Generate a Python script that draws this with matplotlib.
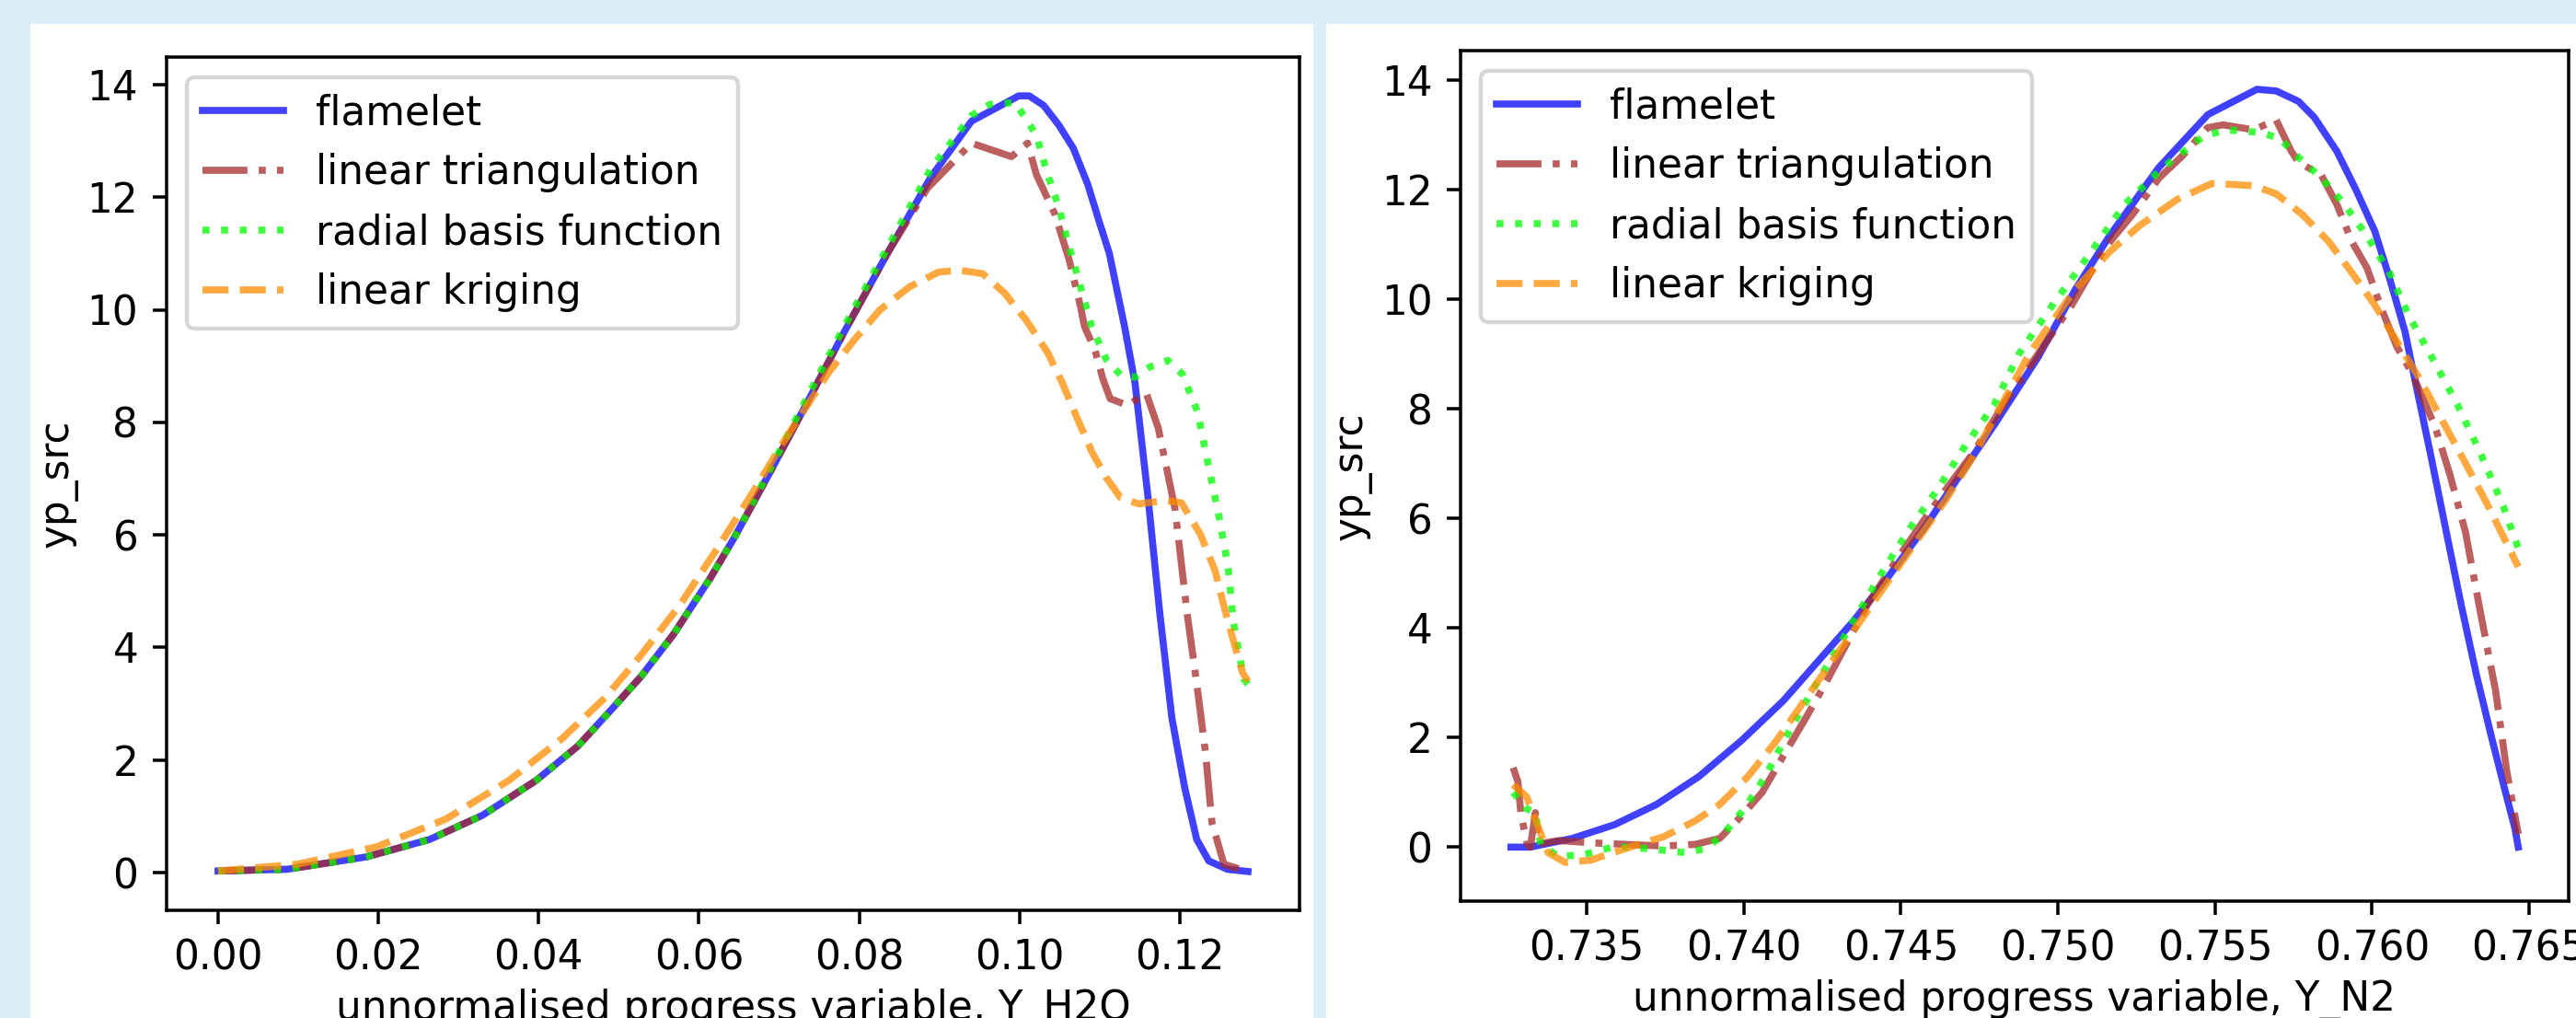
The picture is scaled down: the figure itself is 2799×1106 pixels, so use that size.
import matplotlib
matplotlib.use('Agg')
import matplotlib.pyplot as plt
from matplotlib.patches import Rectangle

# scale factor for the enlarged slide
S = 3.15
plt.rcParams.update({
    'font.size': 10*S,
    'axes.linewidth': 0.8*S,
    'xtick.major.size': 3.5*S, 'ytick.major.size': 3.5*S,
    'xtick.major.width': 0.8*S, 'ytick.major.width': 0.8*S,
    'xtick.major.pad': 3.5*S, 'ytick.major.pad': 3.5*S,
    'axes.labelpad': 4.0*S,
    'patch.linewidth': 1.0*S,
})

labels = ['flamelet', 'linear triangulation', 'radial basis function', 'linear kriging']
colors = ['b', 'brown', 'lime', 'darkorange']
styles = ['-', '-.', ':', '--']

# ---- Y_H2O panel ----
h2o_flamelet_x = [0.0, 0.0086, 0.0185, 0.0264, 0.0330, 0.0397, 0.0449, 0.0489, 0.0528, 0.0568,
                  0.0614, 0.0644, 0.0690, 0.0735, 0.0781, 0.0835, 0.0889, 0.0940, 0.0999, 0.1012,
                  0.1030, 0.1049, 0.1067, 0.1085, 0.1099, 0.1112, 0.1131, 0.1144, 0.1160, 0.1175,
                  0.1190, 0.1206, 0.1221, 0.1236, 0.1259, 0.1285]
h2o_flamelet_y = [0.03, 0.06, 0.28, 0.59, 1.02, 1.64, 2.25, 2.87, 3.49, 4.23,
                  5.23, 5.95, 7.15, 8.35, 9.6, 11.0, 12.35, 13.35, 13.8, 13.8,
                  13.63, 13.28, 12.87, 12.23, 11.58, 11.0, 9.70, 8.7, 6.7, 4.6,
                  2.75, 1.51, 0.59, 0.21, 0.06, 0.02]

h2o_lintri_x = [0.0, 0.0086, 0.0185, 0.0264, 0.0330, 0.0397, 0.0449, 0.0489, 0.0528, 0.0568,
                0.0614, 0.0644, 0.0690, 0.0735, 0.0781, 0.0835, 0.0885, 0.0940, 0.0990, 0.1010,
                0.1021, 0.1044, 0.1062, 0.1076, 0.1081, 0.1094, 0.1104, 0.1113, 0.1135, 0.1158,
                0.1173, 0.1194, 0.1209, 0.1221, 0.1232, 0.1240, 0.1255, 0.1285]
h2o_lintri_y = [0.03, 0.06, 0.28, 0.59, 1.02, 1.64, 2.25, 2.87, 3.49, 4.23,
                5.23, 5.95, 7.15, 8.35, 9.6, 11.0, 12.16, 12.96, 12.72, 12.96,
                12.40, 11.7, 10.88, 10.06, 9.70, 9.29, 8.77, 8.42, 8.30, 8.52,
                7.9, 6.46, 4.61, 3.36, 2.13, 0.89, 0.15, 0.02]

h2o_rbf_x = [0.0, 0.0086, 0.0185, 0.0264, 0.0330, 0.0397, 0.0449, 0.0489, 0.0528, 0.0568,
             0.0614, 0.0644, 0.0690, 0.0735, 0.0781, 0.0835, 0.0889, 0.0940, 0.0963, 0.0994,
             0.1008, 0.1021, 0.1035, 0.1049, 0.1062, 0.1076, 0.1090, 0.1108, 0.1126, 0.1144,
             0.1162, 0.1185, 0.1203, 0.1222, 0.1236, 0.1249, 0.1260, 0.1267, 0.1280, 0.1285]
h2o_rbf_y = [0.03, 0.06, 0.28, 0.59, 1.02, 1.64, 2.25, 2.87, 3.49, 4.23,
             5.23, 5.95, 7.2, 8.45, 9.7, 11.1, 12.5, 13.45, 13.65, 13.68,
             13.39, 13.10, 12.40, 11.82, 11.11, 10.41, 9.70, 9.12, 8.84, 8.80,
             8.98, 9.10, 8.86, 8.19, 7.2, 6.31, 5.45, 4.43, 3.43, 3.35]

h2o_krig_x = [0.0, 0.0099, 0.0198, 0.0284, 0.0363, 0.0429, 0.0483, 0.0528, 0.0575, 0.0621,
              0.0667, 0.0703, 0.0735, 0.0762, 0.0794, 0.0826, 0.0863, 0.0899, 0.0926, 0.0954,
              0.0981, 0.1008, 0.1035, 0.1053, 0.1072, 0.1090, 0.1108, 0.1126, 0.1149, 0.1181,
              0.1202, 0.1226, 0.1244, 0.1255, 0.1267, 0.1278, 0.1285]
h2o_krig_y = [0.03, 0.15, 0.46, 0.95, 1.64, 2.38, 3.11, 3.87, 4.73, 5.72,
              6.75, 7.6, 8.30, 8.89, 9.47, 10.0, 10.41, 10.67, 10.7, 10.64,
              10.30, 9.82, 9.24, 8.71, 8.07, 7.48, 7.02, 6.66, 6.55, 6.61,
              6.57, 6.0, 5.36, 4.73, 4.11, 3.56, 3.4]

# ---- Y_N2 panel ----
n2_flamelet_x = [0.73258, 0.7332, 0.73454, 0.73588, 0.73722, 0.73857, 0.73991, 0.74125, 0.74237,
                 0.74349, 0.74460, 0.74572, 0.74684, 0.74796, 0.74936, 0.75056, 0.75164, 0.75321,
                 0.75478, 0.75634, 0.75695, 0.75766, 0.75816, 0.75888, 0.75947, 0.76009, 0.76056,
                 0.76105, 0.76140, 0.76189, 0.76237, 0.76285, 0.76333, 0.76382, 0.76429, 0.76455,
                 0.76466]
n2_flamelet_y = [0.0, 0.0, 0.16, 0.41, 0.78, 1.29, 1.94, 2.67, 3.40,
                 4.13, 4.94, 5.81, 6.76, 7.7, 8.94, 10.19, 11.16, 12.41,
                 13.38, 13.84, 13.81, 13.62, 13.33, 12.71, 12.03, 11.25, 10.39,
                 9.42, 8.45, 7.11, 5.75, 4.40, 3.14, 1.98, 0.92, 0.35,
                 0.0]

n2_lintri_x = [0.73265, 0.73280, 0.73290, 0.73310, 0.7332, 0.73336, 0.73348, 0.73409, 0.73510,
               0.73621, 0.73744, 0.73845, 0.73923, 0.73991, 0.74058, 0.74125, 0.74192, 0.74258,
               0.74325, 0.74393, 0.74483, 0.74572, 0.74639, 0.74729, 0.74840, 0.74900, 0.75044,
               0.75152, 0.75237, 0.75322, 0.75394, 0.75477, 0.75526, 0.75623, 0.75695, 0.75743,
               0.75766, 0.75839, 0.75888, 0.75936, 0.75984, 0.76032, 0.76080, 0.76128, 0.76201,
               0.76248, 0.76298, 0.76345, 0.76394, 0.76429, 0.76466]
n2_lintri_y = [1.45, 1.2, 0.6, 0.05, 0.0, 0.63, 0.06, 0.12, 0.08,
               0.05, 0.02, 0.05, 0.16, 0.56, 1.0, 1.66, 2.31, 2.97,
               3.69, 4.42, 5.22, 5.96, 6.5, 7.19, 8.2, 8.7, 9.90,
               10.96, 11.55, 12.22, 12.61, 13.14, 13.19, 13.10, 13.28, 12.71,
               12.51, 12.27, 11.74, 11.06, 10.58, 9.81, 9.13, 8.65, 7.68,
               6.81, 5.75, 4.30, 2.85, 1.40, 0.24]

n2_rbf_x = [0.73265, 0.73308, 0.73336, 0.73352, 0.73409, 0.73487, 0.73588, 0.73700, 0.73811,
            0.73878, 0.73934, 0.74001, 0.74068, 0.74135, 0.74214, 0.74281, 0.74349, 0.74438,
            0.74527, 0.74617, 0.74706, 0.74796, 0.74875, 0.74983, 0.75093, 0.75213, 0.75334,
            0.75465, 0.75538, 0.75646, 0.75707, 0.75754, 0.75839, 0.75912, 0.75984, 0.76056,
            0.76117, 0.76201, 0.76273, 0.76345, 0.76418, 0.76466]
n2_rbf_y = [1.0, 0.70, 0.63, 0.05, -0.17, -0.14, 0.01, -0.03, -0.10,
            -0.03, 0.23, 0.70, 1.29, 2.02, 2.82, 3.47, 4.13, 5.0,
            5.81, 6.54, 7.34, 8.07, 9.0, 9.90, 10.77, 11.74, 12.41,
            12.99, 13.10, 13.05, 12.94, 12.66, 12.22, 11.74, 11.16, 10.49,
            9.71, 8.84, 8.07, 7.20, 6.23, 5.46]

n2_krig_x = [0.73265, 0.73308, 0.73342, 0.73376, 0.73431, 0.73510, 0.73621, 0.73744, 0.73845,
             0.73923, 0.74013, 0.74103, 0.74192, 0.74281, 0.74371, 0.74460, 0.74550, 0.74639,
             0.74729, 0.74840, 0.74911, 0.75056, 0.75164, 0.75260, 0.75380, 0.75490, 0.75623,
             0.75695, 0.75779, 0.75862, 0.75936, 0.76009, 0.76080, 0.76152, 0.76225, 0.76298,
             0.76370, 0.76466]
n2_krig_y = [1.14, 0.92, 0.41, -0.10, -0.28, -0.24, -0.03, 0.19, 0.48,
             0.78, 1.29, 1.94, 2.67, 3.40, 4.13, 4.86, 5.59, 6.31,
             7.12, 8.28, 9.03, 10.19, 10.87, 11.35, 11.83, 12.12, 12.08,
             11.93, 11.55, 11.06, 10.49, 9.90, 9.23, 8.55, 7.78, 7.01,
             6.23, 5.12]

W, H = 2799, 1106
fig = plt.figure(figsize=(W/100, H/100), dpi=100, facecolor='#daeffa')

# white slide panels behind each plot
for x0, x1 in [(33, 1427), (1441, 2799)]:
    fig.add_artist(Rectangle((x0/W, 0), (x1-x0)/W, (H-26)/H, transform=fig.transFigure,
                             facecolor='white', edgecolor='none', zorder=-1))


def panel(rect, series, xlabel):
    ax = fig.add_axes(rect)
    for (xs, ys), lab, c, ls in zip(series, labels, colors, styles):
        ax.plot(xs, ys, ls, color=c, alpha=0.75, lw=5.5, label=lab)
    ax.set_xlabel(xlabel, labelpad=8.5)
    ax.set_ylabel('yp_src', labelpad=7)
    ax.legend(loc='upper left')
    return ax


ax1 = panel([181/W, (H-989)/H, 1231/W, 927/H],
            [(h2o_flamelet_x, h2o_flamelet_y), (h2o_lintri_x, h2o_lintri_y),
             (h2o_rbf_x, h2o_rbf_y), (h2o_krig_x, h2o_krig_y)],
            'unnormalised progress variable, Y_H2O')

ax2 = panel([1587/W, (H-979)/H, 1204/W, 924/H],
            [(n2_flamelet_x, n2_flamelet_y), (n2_lintri_x, n2_lintri_y),
             (n2_rbf_x, n2_rbf_y), (n2_krig_x, n2_krig_y)],
            'unnormalised progress variable, Y_N2')

fig.savefig('out.png', dpi=100, facecolor=fig.get_facecolor())
